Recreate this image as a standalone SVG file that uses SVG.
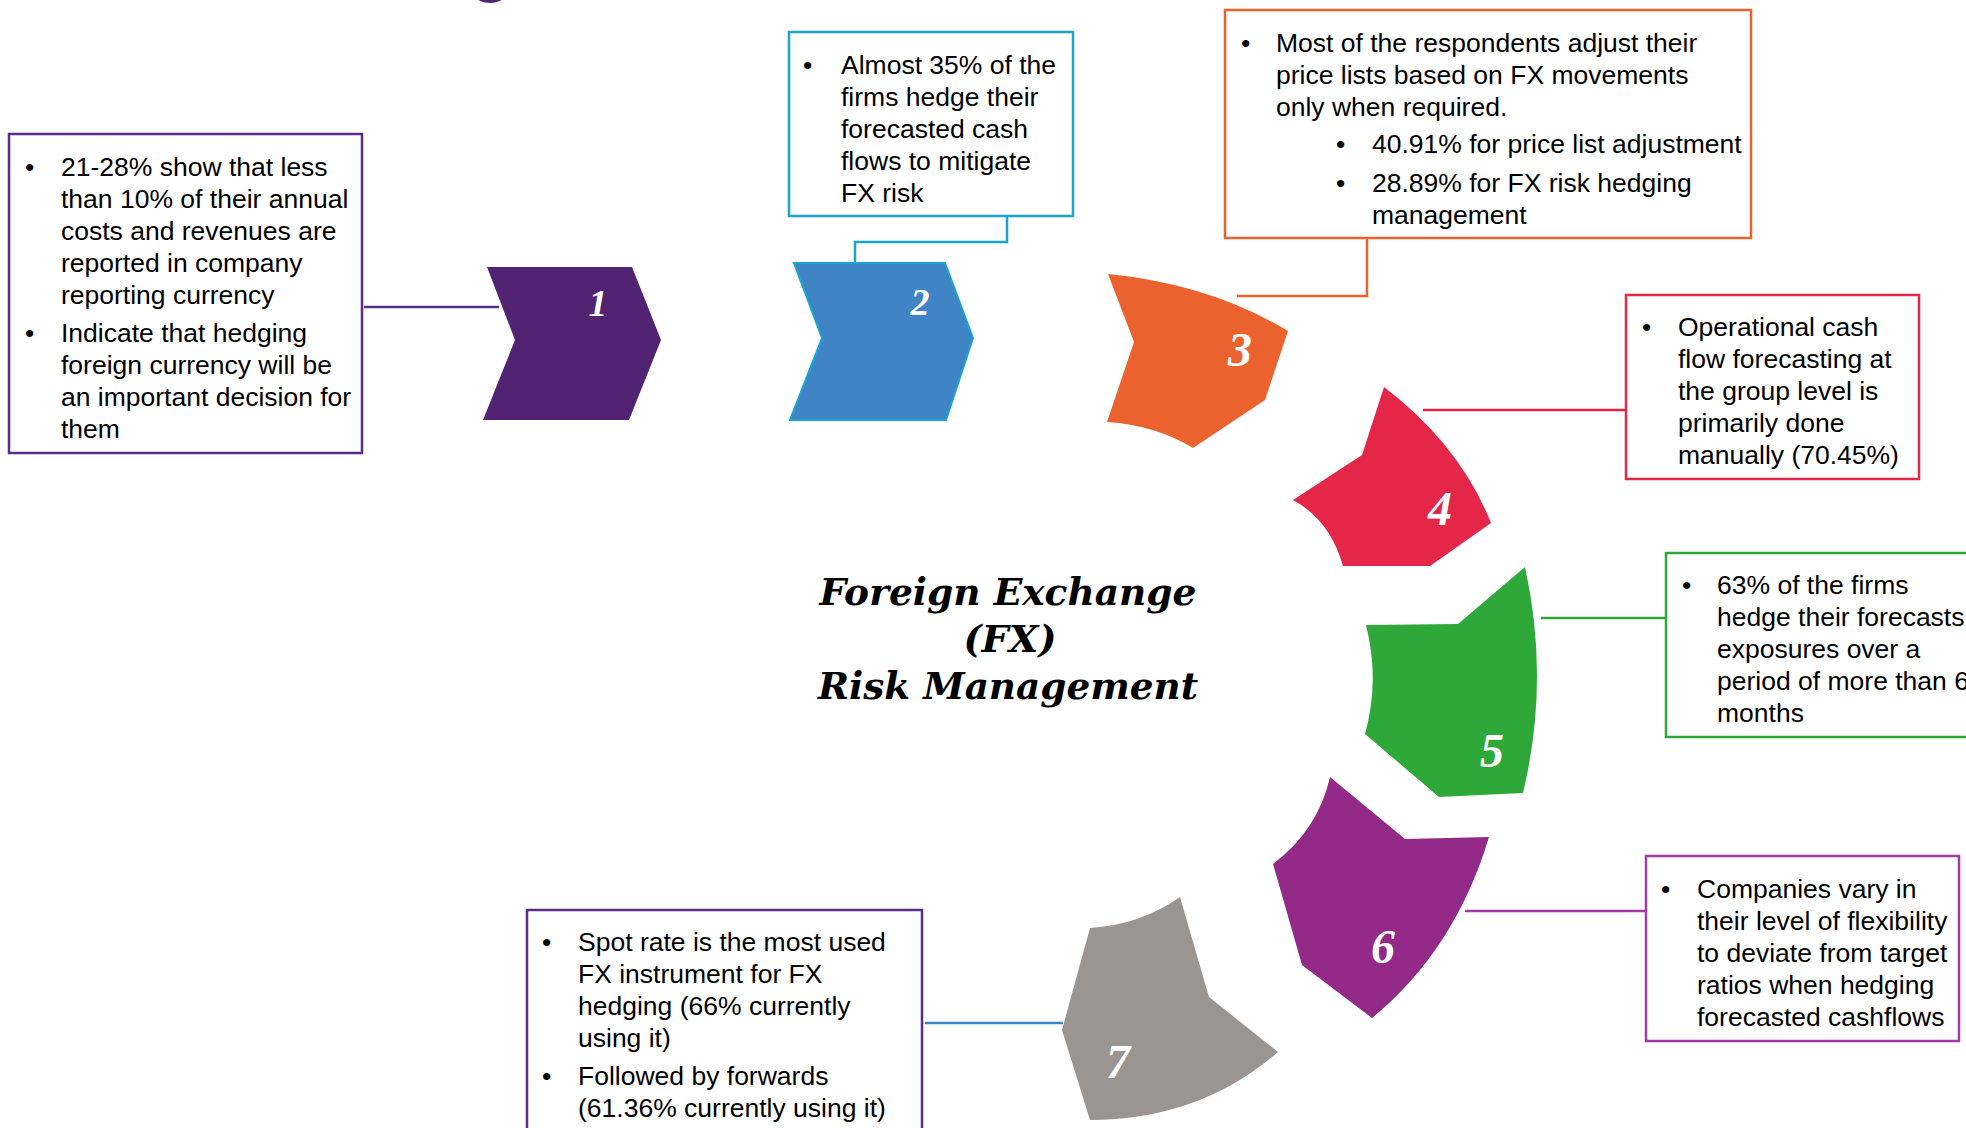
<svg xmlns="http://www.w3.org/2000/svg" width="1966" height="1128" viewBox="0 0 1966 1128">
<style>
.t{font-family:"Liberation Sans",Arial,sans-serif;font-size:26.5px;fill:#000}
.box{fill:#fff;stroke-width:2.5}
.num{font-family:"Liberation Serif","Times New Roman",serif;font-weight:bold;font-style:italic;fill:#fff;text-anchor:middle}
.title{font-family:"DejaVu Serif",Georgia,serif;font-weight:bold;font-style:italic;font-size:38px;fill:#000;text-anchor:middle}
.conn{fill:none;stroke-width:2.5}
</style>
<rect width="1966" height="1128" fill="#fff"/>
<ellipse cx="490" cy="-3" rx="13" ry="6" fill="#522372"/>

<g id="connectors">
<path class="conn" stroke="#5B2D8A" d="M364 307 H499"/>
<path class="conn" stroke="#19A5CF" d="M1007 217 V242 H855 V264"/>
<path class="conn" stroke="#EB622F" d="M1367 238 V296 H1237"/>
<path class="conn" stroke="#E42748" d="M1423 410 H1626"/>
<path class="conn" stroke="#2FA83A" d="M1541 618 H1665"/>
<path class="conn" stroke="#A03CA3" d="M1465 911 H1646"/>
<path class="conn" stroke="#3F84C5" d="M925 1023 H1063"/>
</g>

<g id="title">
<text class="title" x="1008" y="605" textLength="377" lengthAdjust="spacingAndGlyphs">Foreign Exchange</text>
<text class="title" x="1010" y="652" textLength="93" lengthAdjust="spacingAndGlyphs">(FX)</text>
<text class="title" x="1008" y="699" textLength="380" lengthAdjust="spacingAndGlyphs">Risk Management</text>
</g>

<g id="step1">
<path fill="#522372" d="M487 267 L632 267 L661 340 L629 420 L483 420 L515 340 Z"/>
<text class="num" x="598" y="316" font-size="38">1</text>
</g>
<g id="step2">
<path fill="#3F84C5" stroke="#19A5CF" stroke-width="2" d="M794 263 L945 263 L973 338 L946 420 L790 420 L822 338 Z"/>
<text class="num" x="920" y="315" font-size="38">2</text>
</g>
<g id="step3">
<path fill="#EB622F" d="M1108 274 Q1210 284 1288 331 L1265 400 L1193 448 Q1155 425 1107 422 L1134 342 Z"/>
<text class="num" x="1240" y="366" font-size="48">3</text>
</g>
<g id="step4">
<path fill="#E42748" d="M1384 387 Q1460 445 1491 523 L1430 566 L1343 566 Q1330 520 1293 500 L1362 455 Z"/>
<text class="num" x="1440" y="525" font-size="48">4</text>
</g>
<g id="step5">
<path fill="#2FA83A" d="M1525 567 Q1550 680 1523 793 L1439 797 L1365 734 Q1380 680 1366 625 L1458 624 Z"/>
<text class="num" x="1492" y="767" font-size="48">5</text>
</g>
<g id="step6">
<path fill="#932A87" d="M1330 777 L1405 839 L1489 837 Q1455 950 1372 1018 L1302 965 L1273 864 Q1318 830 1330 777 Z"/>
<text class="num" x="1383" y="963" font-size="48">6</text>
</g>
<g id="step7">
<path fill="#9A9591" d="M1090 928 Q1140 925 1180 897 L1209 997 L1278 1052 Q1200 1120 1090 1120 L1062 1030 Z"/>
<text class="num" x="1118" y="1078" font-size="48" font-weight="normal">7</text>
</g>

<g id="box1">
<rect class="box" x="9" y="134" width="353" height="319" stroke="#5B2D8A"/>
<text class="t"><tspan x="25" y="176">•</tspan><tspan x="61" y="176">21-28% show that less</tspan><tspan x="61" y="208">than 10% of their annual</tspan><tspan x="61" y="240">costs and revenues are</tspan><tspan x="61" y="272">reported in company</tspan><tspan x="61" y="304">reporting currency</tspan><tspan x="25" y="342">•</tspan><tspan x="61" y="342">Indicate that hedging</tspan><tspan x="61" y="374">foreign currency will be</tspan><tspan x="61" y="406">an important decision for</tspan><tspan x="61" y="438">them</tspan></text>
</g>
<g id="box2">
<rect class="box" x="789" y="32" width="284" height="184" stroke="#19A5CF"/>
<text class="t"><tspan x="803" y="74">•</tspan><tspan x="841" y="74">Almost 35% of the</tspan><tspan x="841" y="106">firms hedge their</tspan><tspan x="841" y="138">forecasted cash</tspan><tspan x="841" y="170">flows to mitigate</tspan><tspan x="841" y="202">FX risk</tspan></text>
</g>
<g id="box3">
<rect class="box" x="1225" y="10" width="526" height="228" stroke="#EB622F"/>
<text class="t"><tspan x="1241" y="52">•</tspan><tspan x="1276" y="52">Most of the respondents adjust their</tspan><tspan x="1276" y="84">price lists based on FX movements</tspan><tspan x="1276" y="116">only when required.</tspan><tspan x="1336" y="153">•</tspan><tspan x="1372" y="153">40.91% for price list adjustment</tspan><tspan x="1336" y="192">•</tspan><tspan x="1372" y="192">28.89% for FX risk hedging</tspan><tspan x="1372" y="224">management</tspan></text>
</g>
<g id="box4">
<rect class="box" x="1626" y="295" width="293" height="184" stroke="#E42748"/>
<text class="t"><tspan x="1642" y="336">•</tspan><tspan x="1678" y="336">Operational cash</tspan><tspan x="1678" y="368">flow forecasting at</tspan><tspan x="1678" y="400">the group level is</tspan><tspan x="1678" y="432">primarily done</tspan><tspan x="1678" y="464">manually (70.45%)</tspan></text>
</g>
<g id="box5">
<rect class="box" x="1666" y="553" width="330" height="184" stroke="#2FA83A"/>
<text class="t"><tspan x="1682" y="594">•</tspan><tspan x="1717" y="594">63% of the firms</tspan><tspan x="1717" y="626">hedge their forecasts</tspan><tspan x="1717" y="658">exposures over a</tspan><tspan x="1717" y="690">period of more than 6</tspan><tspan x="1717" y="722">months</tspan></text>
</g>
<g id="box6">
<rect class="box" x="1646" y="856" width="313" height="185" stroke="#A03CA3"/>
<text class="t"><tspan x="1661" y="898">•</tspan><tspan x="1697" y="898">Companies vary in</tspan><tspan x="1697" y="930">their level of flexibility</tspan><tspan x="1697" y="962">to deviate from target</tspan><tspan x="1697" y="994">ratios when hedging</tspan><tspan x="1697" y="1026">forecasted cashflows</tspan></text>
</g>
<g id="box7">
<rect class="box" x="527" y="910" width="395" height="240" stroke="#5B2D8A"/>
<text class="t"><tspan x="542" y="951">•</tspan><tspan x="578" y="951">Spot rate is the most used</tspan><tspan x="578" y="983">FX instrument for FX</tspan><tspan x="578" y="1015">hedging (66% currently</tspan><tspan x="578" y="1047">using it)</tspan><tspan x="542" y="1085">•</tspan><tspan x="578" y="1085">Followed by forwards</tspan><tspan x="578" y="1117">(61.36% currently using it)</tspan></text>
</g>
</svg>
